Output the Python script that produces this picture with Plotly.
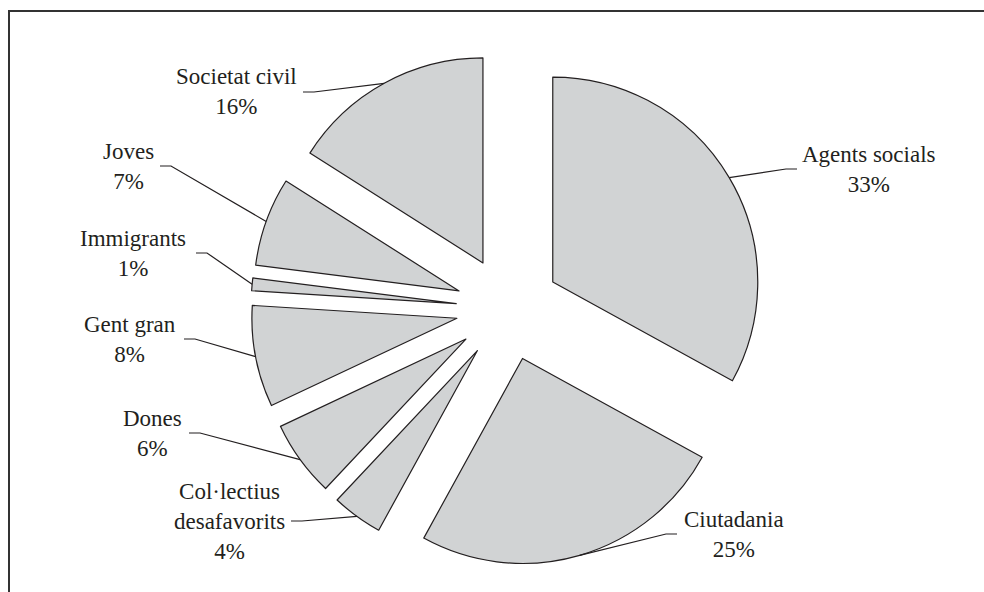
import math
import plotly.graph_objects as go

# ---- data ----
categories = ["Agents socials", "Ciutadania", "Col·lectius<br>desafavorits", "Dones",
              "Gent gran", "Immigrants", "Joves", "Societat civil"]
values = [33, 25, 4, 6, 8, 1, 7, 16]
pct_labels = ["33%", "25%", "4%", "6%", "8%", "1%", "7%", "16%"]

# ---- layout (pixels) ----
W, H = 984, 592
CX, CY = 508, 308.5        # pie centre
R = 205                    # slice radius
PULL = 0.2537              # explode fraction
HALF = R * (1 + PULL)

# label block centres (px) and which side the leader attaches
label_pos = [(869, 169), (734, 534), (229, 521), (152, 433),
             (130, 339), (133, 253), (128, 166), (236, 92)]
label_side = ["left", "left", "right", "right", "right", "right", "right", "right"]
label_halfw = [67, 52, 57, 32, 49, 58, 27, 62]

def px(x):
    return x / W

def py(y):
    return 1 - y / H

fig = go.Figure(go.Pie(
    labels=categories,
    values=values,
    sort=False,
    direction="clockwise",
    rotation=0,
    pull=[PULL] * len(values),
    textinfo="none",
    hoverinfo="label+percent",
    marker=dict(colors=["#d1d3d4"] * len(values), line=dict(color="#231f20", width=1.2)),
    domain=dict(x=[px(CX - HALF), px(CX + HALF)], y=[py(CY + HALF), py(CY - HALF)]),
    showlegend=False,
))

shapes = []
annotations = []
total = sum(values)
cum = 0
for i, v in enumerate(values):
    mid = (cum + v / 2) / total * 2 * math.pi
    cum += v
    dx, dy = math.sin(mid), -math.cos(mid)
    # pulled slice apex, then the arc point on the mid angle
    ax = CX + PULL * R * dx
    ay = CY + PULL * R * dy
    arc_x = ax + R * dx
    arc_y = ay + R * dy
    lx, ly = label_pos[i]
    if label_side[i] == "left":
        ex = lx - label_halfw[i] - 5
        elx = ex - 11
    else:
        ex = lx + label_halfw[i] + 5
        elx = ex + 11
    path = f"M {px(ex)},{py(ly)} L {px(elx)},{py(ly)} L {px(arc_x)},{py(arc_y)}"
    shapes.append(dict(type="path", xref="paper", yref="paper", path=path,
                       line=dict(color="#231f20", width=1.2)))
    annotations.append(dict(
        x=px(lx), y=py(ly), xref="paper", yref="paper",
        text=f"{categories[i]}<br>{pct_labels[i]}",
        showarrow=False, xanchor="center", yanchor="middle", align="center",
        font=dict(family="Liberation Serif, Times New Roman, serif", size=23, color="#231f20"),
    ))

# frame (top and left edges visible)
shapes.append(dict(type="rect", xref="paper", yref="paper",
                   x0=px(9), y0=py(11), x1=1.02, y1=-0.02,
                   line=dict(color="#333333", width=2), fillcolor="rgba(0,0,0,0)"))

fig.update_layout(
    width=W, height=H,
    margin=dict(l=0, r=0, t=0, b=0),
    paper_bgcolor="white",
    plot_bgcolor="white",
    shapes=shapes,
    annotations=annotations,
)

fig.write_html("out.html")
